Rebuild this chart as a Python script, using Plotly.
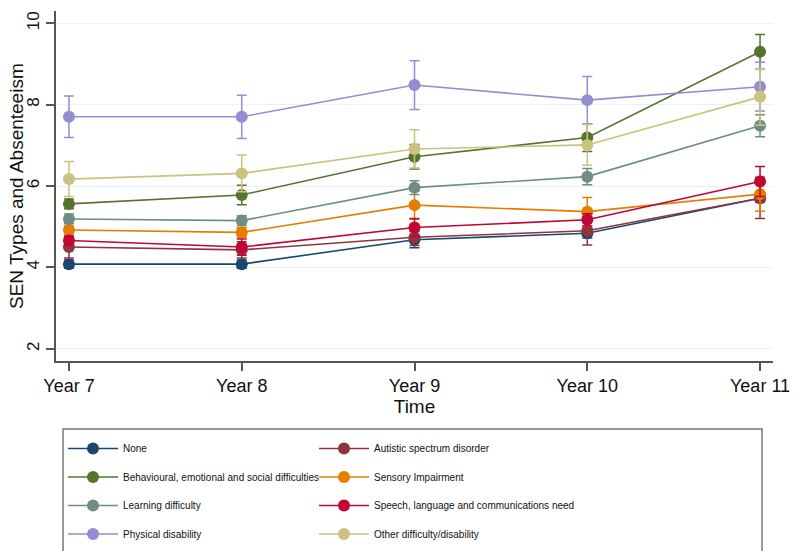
import plotly.graph_objects as go

years = ["Year 7", "Year 8", "Year 9", "Year 10", "Year 11"]

names = ["None", "Autistic spectrum disorder",
         "Behavioural, emotional and social difficulties", "Sensory Impairment",
         "Learning difficulty", "Speech, language and communications need",
         "Physical disability", "Other difficulty/disability"]

none_v = [4.08, 4.08, 4.68, 4.84, 5.70]
none_e = [0.10, 0.10, 0.20, 0.12, 0.10]
autistic_v = [4.50, 4.43, 4.74, 4.90, 5.70]
autistic_e = [0.27, 0.20, 0.20, 0.35, 0.50]
behav_v = [5.56, 5.78, 6.72, 7.19, 9.30]
behav_e = [0.12, 0.24, 0.30, 0.34, 0.42]
sensory_v = [4.92, 4.86, 5.53, 5.37, 5.80]
sensory_e = [0.10, 0.12, 0.35, 0.35, 0.42]
learning_v = [5.19, 5.15, 5.96, 6.23, 7.48]
learning_e = [0.12, 0.12, 0.17, 0.20, 0.27]
speech_v = [4.66, 4.50, 4.98, 5.17, 6.11]
speech_e = [0.10, 0.20, 0.22, 0.15, 0.37]
physical_v = [7.70, 7.70, 8.48, 8.11, 8.44]
physical_e = [0.51, 0.53, 0.60, 0.58, 0.60]
other_v = [6.17, 6.31, 6.91, 7.01, 8.19]
other_e = [0.43, 0.45, 0.47, 0.50, 0.70]

values = [none_v, autistic_v, behav_v, sensory_v, learning_v, speech_v, physical_v, other_v]
errors = [none_e, autistic_e, behav_e, sensory_e, learning_e, speech_e, physical_e, other_e]
colors = ["#1a476f", "#90353b", "#55752f", "#e37e00",
          "#6e8e84", "#c10534", "#938dd2", "#cac27e"]

fig = go.Figure()
for i, (nm, v, e, c) in enumerate(zip(names, values, errors, colors)):
    fig.add_trace(go.Scatter(
        x=years, y=v, name=nm, mode="lines+markers",
        line=dict(color=c, width=1.6),
        marker=dict(color=c, size=12),
        error_y=dict(type="data", array=e, visible=True, color=c, thickness=1.5, width=5),
        legend="legend" if i % 2 == 0 else "legend2",
        legendgroup=nm,
    ))

legend_common = dict(
    orientation="v", tracegroupgap=9.5, itemwidth=50, itemsizing="trace",
    font=dict(family="Liberation Sans Narrow, Arial Narrow, Liberation Sans, Arial", size=10, color="#111"),
    bgcolor="rgba(0,0,0,0)", borderwidth=0,
    xanchor="left", yanchor="top", xref="container", yref="container",
)

fig.update_layout(
    template="none",
    width=795, height=551,
    margin=dict(l=56, r=22, t=11, b=190, autoexpand=False),
    paper_bgcolor="white", plot_bgcolor="white",
    font=dict(family="Liberation Sans, Arial", color="#111"),
    showlegend=True,
    legend=dict(x=63 / 795, y=1 - 434 / 551, **legend_common),
    legend2=dict(x=314 / 795, y=1 - 434 / 551, **legend_common),
    xaxis=dict(
        type="category", range=[-0.075, 4.075], automargin=True,
        showline=True, linecolor="#555", linewidth=1.5,
        ticks="outside", ticklen=8, tickcolor="#555", tickwidth=1.5,
        tickfont=dict(size=18), showgrid=False, zeroline=False,
        title=dict(text="Time", font=dict(size=19), standoff=2),
    ),
    yaxis=dict(
        range=[1.7, 10.3], tickvals=[2, 4, 6, 8, 10], tickangle=-90, automargin=True,
        showline=True, linecolor="#555", linewidth=1.5,
        ticks="outside", ticklen=8, tickcolor="#555", tickwidth=1.5,
        tickfont=dict(size=17), showgrid=True, gridcolor="#e8f1f3", gridwidth=1,
        zeroline=False,
    ),
    annotations=[dict(text="SEN Types and Absenteeism", xref="paper", yref="paper",
                      x=(16 - 56) / 717, y=0.5, textangle=-90, showarrow=False,
                      xanchor="center", yanchor="middle", font=dict(size=19, color="#111"))],
    shapes=[dict(type="rect", xref="paper", yref="paper",
                 x0=0.0098, x1=0.9847, y0=-0.5686, y1=-0.1943,
                 line=dict(color="#777", width=1.5), fillcolor="rgba(0,0,0,0)")],
)

fig.write_html("out.html")
